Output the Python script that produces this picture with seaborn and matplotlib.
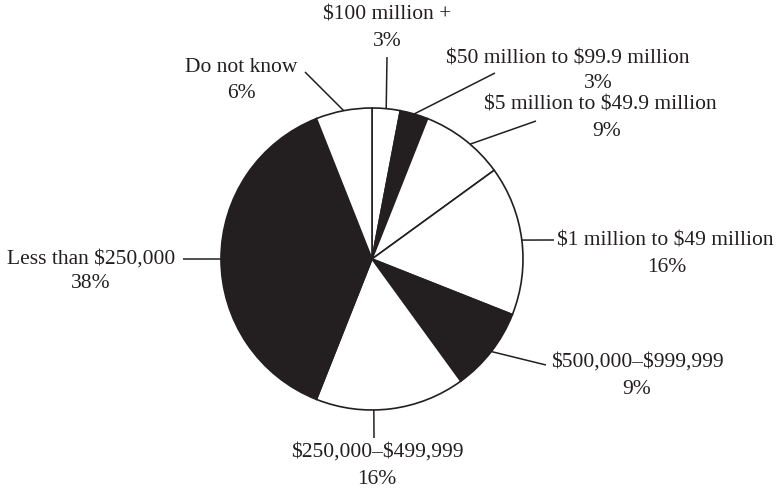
import numpy as np
import matplotlib
matplotlib.use("Agg")
import matplotlib.pyplot as plt
import seaborn as sns

# === Данные ===
categories = [
    "$100 million +",
    "$50 million to $99.9 million",
    "$5 million to $49.9 million",
    "$1 million to $49 million",
    "$500,000–$999,999",
    "$250,000–$499,999",
    "Less than $250,000",
    "Do not know",
]
shares = [3, 3, 9, 16, 9, 16, 38, 6]
pct_labels = [f"{v}%" for v in shares]

# === Оформление ===
ink = "#231f20"
wedge_colors = ["white", ink, "white", "white", ink, "white", ink, "white"]

W, H = 777, 493
center = (372, H - 259)
radius = 151

# positions of label / percent text and leader end (pixels, y from top)
label_pos = [(387, 15), (568, 59), (600, 105), (665, 241),
             (637, 362), (377, 452), (91, 259), (241, 68)]
pct_pos = [(387, 42), (598, 84), (607, 131), (667, 268),
           (637, 390), (377, 479), (91, 284), (241, 94)]
leader_end = [(387, 57), (495, 73), (536, 121), (554, 240),
              (546, 365), (374, 438), (183, 259), (305, 72)]
leader_angle = [None, None, 49.5, None, None, -89.3, None, None]

sns.set_style("white")
plt.rcParams['font.family'] = ['Liberation Serif', 'DejaVu Serif']

fig = plt.figure(figsize=(W / 100, H / 100), dpi=100)
ax = fig.add_axes([0, 0, 1, 1])

wedges, _ = ax.pie(shares, colors=wedge_colors, startangle=90, counterclock=False,
                   center=center, radius=radius, frame=True,
                   wedgeprops=dict(edgecolor=ink, linewidth=1.2))
ax.set_xlim(0, W)
ax.set_ylim(0, H)
ax.set_aspect('equal')
ax.axis('off')

for i, w in enumerate(wedges):
    ang = leader_angle[i]
    if ang is None:
        ang = (w.theta1 + w.theta2) / 2
    x0 = center[0] + radius * np.cos(np.radians(ang))
    y0 = center[1] + radius * np.sin(np.radians(ang))
    x1, y1 = leader_end[i]
    ax.plot([x0, x1], [y0, H - y1], color=ink, lw=1.1, solid_capstyle='butt')

    lx, ly = label_pos[i]
    px, py = pct_pos[i]
    ax.text(lx, H - ly, categories[i], ha='center', va='center', fontsize=15.5,
            color=ink, parse_math=False)
    ax.text(px, H - py, pct_labels[i], ha='center', va='center', fontsize=15.5,
            color=ink, parse_math=False)

plt.savefig("out.png", dpi=100)
plt.close()
